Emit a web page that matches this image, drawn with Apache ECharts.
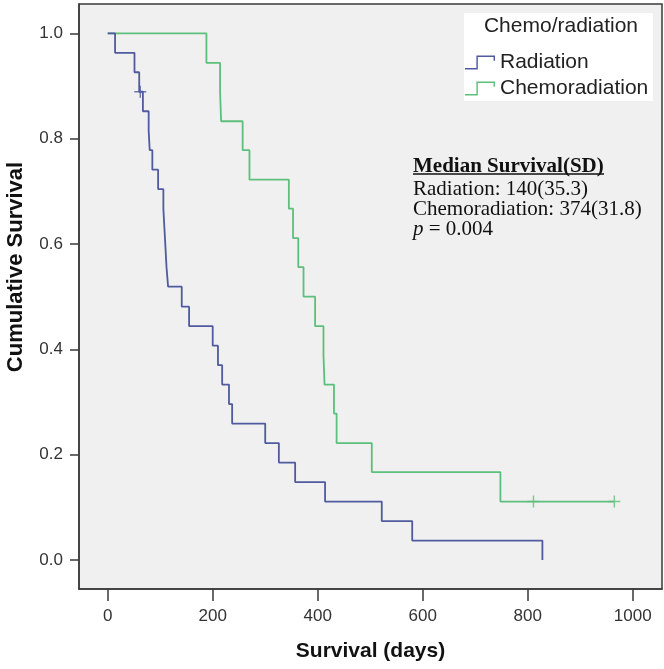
<!DOCTYPE html>
<html>
<head>
<meta charset="utf-8">
<script src="https://cdn.jsdelivr.net/npm/echarts@6/dist/echarts.min.js"></script>
<style>
html,body{margin:0;padding:0;background:#fff;}
#chart{width:664px;height:669px;}
</style>
</head>
<body>
<div id="chart"></div>
<script>
// Kaplan-Meier steps
var radiationTimes = [0,14,51,60,67,78,80,85,96,106,108,110,112,115,141,155,200,210,218,231,237,300,326,357,414,522,580,828];
var radiationSurvival = [1,0.963,0.926,0.889,0.852,0.815,0.778,0.741,0.704,0.667,0.630,0.593,0.556,0.519,0.481,0.444,0.407,0.370,0.333,0.296,0.259,0.222,0.185,0.148,0.111,0.074,0.037,0];
var radiationCensorTimes = [62];
var radiationCensorSurvival = [0.889];

var chemoTimes = [0,188,214,216,257,270,345,353,363,373,395,411,413,431,436,503,748,965];
var chemoSurvival = [1,0.944,0.889,0.833,0.778,0.722,0.667,0.611,0.556,0.500,0.444,0.389,0.333,0.278,0.222,0.167,0.111,0.111];
var chemoCensorTimes = [811,965];
var chemoCensorSurvival = [0.111,0.111];

var xTicks = [0,200,400,600,800,1000];
var yTicks = [0,0.2,0.4,0.6,0.8,1.0];

var seriesNames = ['Radiation','Chemoradiation'];
var legendTitle = 'Chemo/radiation';
var noteLines = ['Median Survival(SD)','Radiation: 140(35.3)','Chemoradiation: 374(31.8)'];
var pValue = '0.004';

function pairs(a,b){ return a.map(function(v,i){ return [v,b[i]]; }); }

var blue = '#4f5b9e';
var green = '#5cbf7c';
var plusPath = 'path://M8.8,0H11.2V8.8H20V11.2H11.2V20H8.8V11.2H0V8.8H8.8Z';
var stepIcon = 'path://M0,13H11V1H29V6H27.6V2.4H12.4V14.4H0Z';

var chart = echarts.init(document.getElementById('chart'));
chart.setOption({
  animation:false,
  backgroundColor:'#ffffff',
  grid:{left:79,top:4,right:2,bottom:80,show:true,backgroundColor:'#f0f0f0',borderColor:'#3a3a3a',borderWidth:1.5,containLabel:false},
  xAxis:{
    type:'value',min:-54.7,max:1055.8,
    name:'Survival (days)',nameLocation:'middle',nameGap:52,
    nameTextStyle:{fontFamily:'Liberation Sans',fontWeight:'bold',fontSize:21,color:'#111'},
    axisLine:{show:true,onZero:false,lineStyle:{color:'#3a3a3a',width:1.5}},
    axisTick:{show:true,inside:false,length:12,lineStyle:{color:'#3a3a3a',width:1.5},customValues:xTicks},
    axisLabel:{margin:19,fontFamily:'Liberation Sans',fontSize:17,color:'#333',customValues:xTicks,
      formatter:function(v){return String(v);}},
    splitLine:{show:false}
  },
  yAxis:{
    type:'value',min:-0.055,max:1.0556,
    axisLine:{show:true,onZero:false,lineStyle:{color:'#3a3a3a',width:1.5}},
    axisTick:{show:true,inside:false,length:9,lineStyle:{color:'#3a3a3a',width:1.5},customValues:yTicks},
    axisLabel:{margin:16,fontFamily:'Liberation Sans',fontSize:17,color:'#333',customValues:yTicks,
      formatter:function(v){return v.toFixed(1);}},
    splitLine:{show:false}
  },
  legend:{
    orient:'vertical',left:465,top:52,padding:0,itemGap:5,itemWidth:30,itemHeight:16,z:10,
    textStyle:{fontFamily:'Liberation Sans',fontSize:21,lineHeight:21,color:'#222'},
    data:[
      {name:seriesNames[0],icon:stepIcon,itemStyle:{color:blue}},
      {name:seriesNames[1],icon:stepIcon,itemStyle:{color:green}}
    ]
  },
  graphic:[
    {type:'rect',z:5,shape:{x:464,y:13,width:189,height:88},style:{fill:'#ffffff'}},
    {type:'text',z:6,x:561,y:26,style:{text:legendTitle,fontFamily:'Liberation Sans',fontSize:21,fill:'#222',align:'center',verticalAlign:'middle'}},
    {type:'text',x:16,y:267,rotation:Math.PI/2,style:{text:'Cumulative Survival',fontFamily:'Liberation Sans',fontWeight:'bold',fontSize:22,fill:'#111',align:'center',verticalAlign:'middle'}},
    {type:'text',z:6,x:413,y:167,style:{text:noteLines[0],fontFamily:'Liberation Serif',fontWeight:'bold',fontSize:21,fill:'#111',align:'left',verticalAlign:'middle'}},
    {type:'line',z:6,shape:{x1:413,y1:174,x2:604,y2:174},style:{stroke:'#111',lineWidth:1.3}},
    {type:'text',z:6,x:413,y:189,style:{text:noteLines[1],fontFamily:'Liberation Serif',fontSize:21,fill:'#111',align:'left',verticalAlign:'middle'}},
    {type:'text',z:6,x:413,y:209,style:{text:noteLines[2],fontFamily:'Liberation Serif',fontSize:21,fill:'#111',align:'left',verticalAlign:'middle'}},
    {type:'text',z:6,x:413,y:229,style:{text:'{i|p} = '+pValue,fontFamily:'Liberation Serif',fontSize:21,fill:'#111',align:'left',verticalAlign:'middle',
      rich:{i:{fontFamily:'Liberation Serif',fontStyle:'italic',fontSize:21,fill:'#111'}}}}
  ],
  series:[
    {name:seriesNames[1],type:'line',step:'end',data:pairs(chemoTimes,chemoSurvival),showSymbol:false,symbol:'none',
      lineStyle:{color:green,width:1.8},itemStyle:{color:green},z:2},
    {name:seriesNames[0],type:'line',step:'end',data:pairs(radiationTimes,radiationSurvival),showSymbol:false,symbol:'none',
      lineStyle:{color:blue,width:1.8},itemStyle:{color:blue},z:3},
    {name:'Chemoradiation censored',type:'scatter',data:pairs(chemoCensorTimes,chemoCensorSurvival),symbol:plusPath,symbolSize:12,
      itemStyle:{color:green},z:4},
    {name:'Radiation censored',type:'scatter',data:pairs(radiationCensorTimes,radiationCensorSurvival),symbol:plusPath,symbolSize:12,
      itemStyle:{color:blue},z:4}
  ]
});
</script>
</body>
</html>
